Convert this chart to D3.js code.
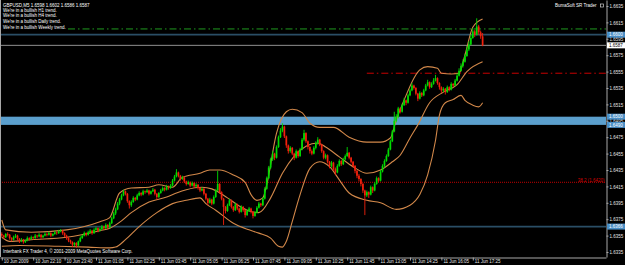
<!DOCTYPE html>
<html><head><meta charset="utf-8">
<script src="https://cdn.jsdelivr.net/npm/d3@7/dist/d3.min.js"></script>
<style>
html,body{margin:0;padding:0;background:#000;overflow:hidden}
svg{display:block}
</style></head><body>
<svg id="c" width="625" height="265"></svg>
<script>
// ---- data (GBPUSD, M5) ----
const open = [
1.6357,1.6355,1.6353,1.6357,1.6356,1.6352,1.6350,1.6353,1.6355,1.6351,
1.6348,1.6350,1.6347,1.6349,1.6352,1.6351,1.6353,1.6352,1.6355,1.6354,
1.6356,1.6353,1.6355,1.6357,1.6356,1.6358,1.6355,1.6357,1.6359,1.6358,
1.6360,1.6361,1.6358,1.6355,1.6352,1.6349,1.6347,1.6344,1.6346,1.6343,
1.6348,1.6352,1.6355,1.6358,1.6356,1.6359,1.6361,1.6358,1.6362,1.6364,
1.6361,1.6363,1.6366,1.6364,1.6368,1.6365,1.6370,1.6376,1.6382,1.6387,
1.6394,1.6399,1.6404,1.6409,1.6406,1.6397,1.6392,1.6396,1.6401,1.6399,
1.6404,1.6407,1.6405,1.6409,1.6408,1.6410,1.6406,1.6409,1.6411,1.6406,
1.6402,1.6407,1.6410,1.6413,1.6411,1.6415,1.6413,1.6416,1.6422,1.6427,
1.6432,1.6428,1.6424,1.6426,1.6421,1.6418,1.6420,1.6416,1.6419,1.6415,
1.6417,1.6413,1.6410,1.6412,1.6406,1.6400,1.6395,1.6399,1.6394,1.6402,
1.6410,1.6418,1.6408,1.6400,1.6390,1.6385,1.6392,1.6398,1.6390,1.6386,
1.6393,1.6388,1.6384,1.6390,1.6386,1.6380,1.6385,1.6388,1.6384,1.6379,
1.6383,1.6389,1.6394,1.6392,1.6400,1.6412,1.6425,1.6438,1.6448,1.6455,
1.6450,1.6463,1.6475,1.6483,1.6488,1.6476,1.6465,1.6458,1.6462,1.6455,
1.6450,1.6458,1.6452,1.6460,1.6472,1.6480,1.6470,1.6463,1.6458,1.6455,
1.6462,1.6468,1.6472,1.6466,1.6458,1.6450,1.6453,1.6445,1.6440,1.6444,
1.6436,1.6432,1.6440,1.6446,1.6442,1.6448,1.6452,1.6456,1.6450,1.6445,
1.6440,1.6434,1.6428,1.6424,1.6418,1.6410,1.6404,1.6408,1.6405,1.6414,
1.6410,1.6418,1.6425,1.6422,1.6433,1.6440,1.6446,1.6452,1.6460,1.6470,
1.6482,1.6495,1.6500,1.6510,1.6506,1.6514,1.6520,1.6517,1.6526,1.6532,
1.6538,1.6535,1.6528,1.6522,1.6529,1.6526,1.6532,1.6538,1.6542,1.6536,
1.6540,1.6544,1.6547,1.6541,1.6536,1.6532,1.6534,1.6530,1.6536,1.6533,
1.6540,1.6538,1.6544,1.6550,1.6556,1.6562,1.6567,1.6574,1.6582,1.6588,
1.6596,1.6604,1.6600,1.6610,1.6603,1.6598];
const high = [
1.6359,1.6356,1.6358,1.6359,1.6357,1.6353,1.6355,1.6357,1.6356,1.6352,
1.6352,1.6351,1.6350,1.6354,1.6353,1.6355,1.6354,1.6357,1.6356,1.6358,
1.6357,1.6356,1.6359,1.6358,1.6360,1.6359,1.6358,1.6361,1.6360,1.6362,
1.6363,1.6362,1.6359,1.6356,1.6353,1.6350,1.6348,1.6347,1.6347,1.6349,
1.6354,1.6356,1.6360,1.6359,1.6361,1.6363,1.6362,1.6364,1.6366,1.6365,
1.6365,1.6368,1.6367,1.6370,1.6369,1.6372,1.6378,1.6384,1.6389,1.6396,
1.6401,1.6406,1.6411,1.6410,1.6407,1.6398,1.6398,1.6403,1.6402,1.6406,
1.6409,1.6408,1.6411,1.6410,1.6412,1.6411,1.6410,1.6413,1.6412,1.6407,
1.6408,1.6412,1.6415,1.6414,1.6417,1.6416,1.6418,1.6424,1.6429,1.6436,
1.6433,1.6429,1.6428,1.6427,1.6422,1.6422,1.6421,1.6421,1.6420,1.6419,
1.6418,1.6414,1.6414,1.6413,1.6407,1.6401,1.6401,1.6400,1.6404,1.6412,
1.6434,1.6419,1.6409,1.6401,1.6391,1.6394,1.6400,1.6399,1.6391,1.6395,
1.6394,1.6389,1.6392,1.6391,1.6387,1.6387,1.6390,1.6389,1.6385,1.6385,
1.6391,1.6396,1.6395,1.6402,1.6414,1.6427,1.6440,1.6450,1.6458,1.6456,
1.6465,1.6477,1.6486,1.6492,1.6489,1.6477,1.6466,1.6464,1.6463,1.6456,
1.6460,1.6459,1.6462,1.6474,1.6484,1.6481,1.6471,1.6464,1.6460,1.6464,
1.6470,1.6475,1.6473,1.6467,1.6459,1.6455,1.6454,1.6446,1.6446,1.6445,
1.6438,1.6442,1.6448,1.6447,1.6450,1.6454,1.6463,1.6457,1.6451,1.6446,
1.6441,1.6435,1.6430,1.6425,1.6419,1.6411,1.6410,1.6409,1.6416,1.6415,
1.6420,1.6427,1.6426,1.6435,1.6442,1.6448,1.6454,1.6462,1.6472,1.6484,
1.6506,1.6503,1.6512,1.6511,1.6516,1.6523,1.6521,1.6528,1.6534,1.6541,
1.6539,1.6536,1.6529,1.6531,1.6530,1.6534,1.6540,1.6545,1.6543,1.6542,
1.6547,1.6551,1.6548,1.6542,1.6537,1.6536,1.6535,1.6538,1.6537,1.6542,
1.6541,1.6546,1.6553,1.6559,1.6565,1.6570,1.6577,1.6586,1.6592,1.6600,
1.6608,1.6606,1.6620,1.6612,1.6605,1.6602];
const low = [
1.6353,1.6351,1.6352,1.6354,1.6350,1.6348,1.6349,1.6352,1.6349,1.6346,
1.6347,1.6345,1.6346,1.6348,1.6349,1.6350,1.6350,1.6351,1.6352,1.6353,
1.6351,1.6352,1.6354,1.6354,1.6355,1.6353,1.6354,1.6356,1.6356,1.6357,
1.6359,1.6356,1.6353,1.6350,1.6347,1.6345,1.6341,1.6342,1.6340,1.6342,
1.6347,1.6351,1.6354,1.6354,1.6355,1.6358,1.6356,1.6357,1.6361,1.6359,
1.6360,1.6362,1.6362,1.6363,1.6363,1.6364,1.6369,1.6375,1.6380,1.6386,
1.6392,1.6398,1.6403,1.6404,1.6395,1.6388,1.6390,1.6395,1.6397,1.6398,
1.6403,1.6403,1.6404,1.6406,1.6407,1.6404,1.6405,1.6408,1.6404,1.6399,
1.6401,1.6406,1.6409,1.6409,1.6410,1.6411,1.6412,1.6415,1.6421,1.6426,
1.6426,1.6422,1.6423,1.6419,1.6416,1.6417,1.6414,1.6415,1.6413,1.6414,
1.6411,1.6408,1.6409,1.6404,1.6398,1.6392,1.6394,1.6392,1.6393,1.6401,
1.6409,1.6406,1.6398,1.6368,1.6382,1.6384,1.6391,1.6388,1.6384,1.6385,
1.6386,1.6382,1.6383,1.6384,1.6377,1.6379,1.6384,1.6382,1.6376,1.6378,
1.6382,1.6388,1.6390,1.6391,1.6399,1.6411,1.6424,1.6436,1.6446,1.6447,
1.6449,1.6462,1.6474,1.6481,1.6474,1.6462,1.6455,1.6456,1.6453,1.6447,
1.6449,1.6450,1.6451,1.6459,1.6470,1.6468,1.6460,1.6455,1.6453,1.6454,
1.6460,1.6466,1.6464,1.6456,1.6448,1.6448,1.6443,1.6437,1.6438,1.6434,
1.6429,1.6431,1.6439,1.6440,1.6441,1.6447,1.6451,1.6448,1.6443,1.6438,
1.6431,1.6425,1.6421,1.6415,1.6407,1.6380,1.6402,1.6401,1.6404,1.6407,
1.6409,1.6417,1.6420,1.6421,1.6432,1.6438,1.6445,1.6451,1.6459,1.6469,
1.6481,1.6493,1.6498,1.6504,1.6505,1.6513,1.6514,1.6516,1.6525,1.6531,
1.6533,1.6526,1.6519,1.6521,1.6524,1.6525,1.6531,1.6537,1.6534,1.6535,
1.6539,1.6543,1.6539,1.6533,1.6529,1.6530,1.6527,1.6529,1.6531,1.6532,
1.6536,1.6537,1.6543,1.6549,1.6555,1.6560,1.6566,1.6573,1.6580,1.6587,
1.6595,1.6597,1.6599,1.6600,1.6595,1.6586];
const close = [
1.6355,1.6353,1.6357,1.6356,1.6352,1.6350,1.6353,1.6355,1.6351,1.6348,
1.6350,1.6347,1.6349,1.6352,1.6351,1.6353,1.6352,1.6355,1.6354,1.6356,
1.6353,1.6355,1.6357,1.6356,1.6358,1.6355,1.6357,1.6359,1.6358,1.6360,
1.6361,1.6358,1.6355,1.6352,1.6349,1.6347,1.6344,1.6346,1.6343,1.6348,
1.6352,1.6355,1.6358,1.6356,1.6359,1.6361,1.6358,1.6362,1.6364,1.6361,
1.6363,1.6366,1.6364,1.6368,1.6365,1.6370,1.6376,1.6382,1.6387,1.6394,
1.6399,1.6404,1.6409,1.6406,1.6397,1.6392,1.6396,1.6401,1.6399,1.6404,
1.6407,1.6405,1.6409,1.6408,1.6410,1.6406,1.6409,1.6411,1.6406,1.6402,
1.6407,1.6410,1.6413,1.6411,1.6415,1.6413,1.6416,1.6422,1.6427,1.6432,
1.6428,1.6424,1.6426,1.6421,1.6418,1.6420,1.6416,1.6419,1.6415,1.6417,
1.6413,1.6410,1.6412,1.6406,1.6400,1.6395,1.6399,1.6394,1.6402,1.6410,
1.6418,1.6408,1.6400,1.6390,1.6385,1.6392,1.6398,1.6390,1.6386,1.6393,
1.6388,1.6384,1.6390,1.6386,1.6380,1.6385,1.6388,1.6384,1.6379,1.6383,
1.6389,1.6394,1.6392,1.6400,1.6412,1.6425,1.6438,1.6448,1.6455,1.6450,
1.6463,1.6475,1.6483,1.6488,1.6476,1.6465,1.6458,1.6462,1.6455,1.6450,
1.6458,1.6452,1.6460,1.6472,1.6480,1.6470,1.6463,1.6458,1.6455,1.6462,
1.6468,1.6472,1.6466,1.6458,1.6450,1.6453,1.6445,1.6440,1.6444,1.6436,
1.6432,1.6440,1.6446,1.6442,1.6448,1.6452,1.6456,1.6450,1.6445,1.6440,
1.6434,1.6428,1.6424,1.6418,1.6410,1.6404,1.6408,1.6405,1.6414,1.6410,
1.6418,1.6425,1.6422,1.6433,1.6440,1.6446,1.6452,1.6460,1.6470,1.6482,
1.6495,1.6500,1.6510,1.6506,1.6514,1.6520,1.6517,1.6526,1.6532,1.6538,
1.6535,1.6528,1.6522,1.6529,1.6526,1.6532,1.6538,1.6542,1.6536,1.6540,
1.6544,1.6547,1.6541,1.6536,1.6532,1.6534,1.6530,1.6536,1.6533,1.6540,
1.6538,1.6544,1.6550,1.6556,1.6562,1.6567,1.6574,1.6582,1.6588,1.6596,
1.6604,1.6600,1.6610,1.6603,1.6598,1.6587];

// Bollinger-style envelopes: [bar index, price]
const upperBand = [[0,1.6374],[2,1.6362],[15,1.6359],[33,1.6362],[50,1.6372],[55,1.6377],[60,1.6407],[66,1.6413],[75,1.6414],[80,1.6417],[87,1.6414],[92,1.6426],[101,1.6431],[106,1.6435],[111,1.6435],[118,1.6429],[124,1.6420],[127,1.6405],[130,1.6398],[133,1.6401],[135,1.6417],[140,1.6480],[145,1.6506],[148,1.6509],[153,1.6505],[157,1.6492],[162,1.6487],[169,1.6487],[177,1.6475],[186,1.6469],[193,1.6469],[198,1.6474],[201,1.6496],[206,1.6526],[210,1.6547],[213,1.6557],[217,1.6561],[222,1.6559],[224,1.6553],[229,1.6552],[233,1.6553],[236,1.6575],[240,1.6609],[245,1.6619]];
const middleBand = [[0,1.6353],[4,1.6348],[15,1.6350],[33,1.6353],[50,1.6361],[55,1.6364],[61,1.6373],[66,1.6383],[75,1.6396],[84,1.6402],[89,1.6407],[94,1.6411],[102,1.6414],[107,1.6412],[115,1.6401],[121,1.6391],[126,1.6385],[131,1.6383],[137,1.6401],[143,1.6431],[149,1.6452],[155,1.6464],[161,1.6468],[165,1.6463],[172,1.6451],[179,1.6439],[186,1.6431],[193,1.6435],[199,1.6445],[203,1.6453],[208,1.6474],[212,1.6490],[218,1.6517],[225,1.6530],[232,1.6539],[237,1.6555],[245,1.6567]];
const lowerBand = [[0,1.6342],[9,1.6343],[29,1.6342],[44,1.6341],[55,1.6340],[58,1.6341],[63,1.6350],[70,1.6366],[79,1.6383],[87,1.6394],[94,1.6398],[101,1.6401],[104,1.6394],[109,1.6386],[118,1.6370],[126,1.6362],[131,1.6358],[137,1.6352],[141,1.6342],[143,1.6341],[145,1.6348],[148,1.6372],[152,1.6405],[157,1.6437],[162,1.6445],[167,1.6439],[172,1.6423],[177,1.6407],[186,1.6398],[193,1.6395],[201,1.6387],[208,1.6392],[213,1.6405],[217,1.6429],[221,1.6471],[223,1.6502],[226,1.6517],[230,1.6521],[234,1.6526],[236,1.6520],[240,1.6514],[243,1.6512],[245,1.6517]];

const timeLabels = ["10 Jun 2009","10 Jun 22:10","10 Jun 23:40","11 Jun 01:05","11 Jun 02:25","11 Jun 03:45","11 Jun 05:05","11 Jun 06:25","11 Jun 07:45","11 Jun 09:05","11 Jun 10:25","11 Jun 11:45","11 Jun 13:05","11 Jun 14:25","11 Jun 16:05","11 Jun 17:25"];
const timeLabelBars = [0,16,32,48,64,80,96,112,128,144,160,176,192,208,224,240];
const priceTicks = [1.6635,1.6615,1.6595,1.6575,1.6555,1.6535,1.6515,1.6495,1.6475,1.6455,1.6435,1.6415,1.6395,1.6375,1.6355,1.6335];
const srZone = [1.6490, 1.6500];
const srLines = [1.6600, 1.6366];
const markedPrices = [1.6600, 1.6500, 1.6490, 1.6366];
const resistanceLevel = 1.6607;
const pivotLevel = 1.6553;
const pivotStartBar = 186;
const fibLevel = 1.6420;
const fibLabel = "38.2 (1.6420)";
const trendMessages = ["We're in a bullish H1 trend.","We're in a bullish H4 trend.","We're in a bullish Daily trend.","We're in a bullish Weekly trend."];

// ---- drawing ----
const plotRight = 606, plotBottom = 257;
const FONT = "'Liberation Sans', Arial, sans-serif";
const FS = 4.5;
const axisColor = "#a8a8a8", textColor = "#e6e6e6";
const bull = "#00dc00", bear = "#f3200c", bandColor = "#d2884a";

const svg = d3.select('#c');
svg.append('rect').attr('width', 625).attr('height', 265).attr('fill', '#000');

const n = close.length;
const x = d3.scaleLinear().domain([0, n - 1]).range([1.8, 482.6]);
const y = d3.scaleLinear().domain([1.63289, 1.66423]).range([plotBottom, 0]);

const plot = svg.append('g');

// S/R zone
plot.append('rect')
  .attr('x', 0).attr('width', plotRight)
  .attr('y', y(srZone[1])).attr('height', y(srZone[0]) - y(srZone[1]))
  .attr('fill', '#5b9fcd');

// S/R lines
plot.selectAll('line.sr').data(srLines).join('line')
  .attr('x1', 0).attr('x2', plotRight)
  .attr('y1', d => y(d)).attr('y2', d => y(d))
  .attr('stroke', '#2a4e66').attr('stroke-width', 1.8);

// bid line
plot.append('line').attr('x1', 0).attr('x2', plotRight)
  .attr('y1', y(close[n-1])).attr('y2', y(close[n-1]))
  .attr('stroke', '#8f8f8f').attr('stroke-width', 1);

// green dash-dot resistance
plot.append('line').attr('x1', 68).attr('x2', plotRight)
  .attr('y1', y(resistanceLevel)).attr('y2', y(resistanceLevel))
  .attr('stroke', '#1f9a1f').attr('stroke-width', 1)
  .attr('stroke-dasharray', '7,3,1.5,3');

// red dash-dot pivot
plot.append('line').attr('x1', x(pivotStartBar)).attr('x2', plotRight)
  .attr('y1', y(pivotLevel)).attr('y2', y(pivotLevel))
  .attr('stroke', '#c80000').attr('stroke-width', 1)
  .attr('stroke-dasharray', '7,3,1.5,3');

// fib dotted line
plot.append('line').attr('x1', 0).attr('x2', plotRight)
  .attr('y1', y(fibLevel)).attr('y2', y(fibLevel))
  .attr('stroke', '#c00000').attr('stroke-width', 1)
  .attr('stroke-dasharray', '1,1');
plot.append('text').attr('x', plotRight - 1.5).attr('y', y(fibLevel) - 0.3)
  .attr('text-anchor', 'end').attr('fill', '#d80000')
  .attr('font-family', FONT).attr('font-size', FS).text(fibLabel);

// envelopes
const line = d3.line().x(d => x(d[0])).y(d => y(d[1])).curve(d3.curveMonotoneX);
plot.selectAll('path.band').data([upperBand, middleBand, lowerBand]).join('path')
  .attr('d', line).attr('fill', 'none')
  .attr('stroke', bandColor).attr('stroke-width', 1.1);

// candles
const bars = d3.range(n).map(i => ({i, o: open[i], h: high[i], l: low[i], c: close[i]}));
const col = d => d.c >= d.o ? bull : bear;
plot.selectAll('line.wick').data(bars).join('line')
  .attr('x1', d => x(d.i)).attr('x2', d => x(d.i))
  .attr('y1', d => y(d.h)).attr('y2', d => y(d.l))
  .attr('stroke', col).attr('stroke-width', 0.9);
plot.selectAll('rect.body').data(bars).join('rect')
  .attr('x', d => x(d.i) - 0.85).attr('width', 1.7)
  .attr('y', d => y(Math.max(d.o, d.c)))
  .attr('height', d => Math.max(0.8, Math.abs(y(d.o) - y(d.c))))
  .attr('fill', col);

// frame
svg.append('line').attr('x1', 0.5).attr('x2', 0.5).attr('y1', 0).attr('y2', plotBottom)
  .attr('stroke', axisColor).attr('stroke-width', 1);

// right price axis
const yAxis = d3.axisRight(y).tickValues(priceTicks).tickFormat(d3.format('.4f'))
  .tickSize(2).tickSizeOuter(0).tickPadding(1);
const gy = svg.append('g').attr('transform', `translate(${plotRight + 0.5},0)`).call(yAxis);
gy.attr('font-size', FS).attr('font-family', FONT);
gy.select('.domain').attr('stroke', axisColor);
gy.selectAll('.tick line').attr('stroke', axisColor);
gy.selectAll('.tick text').attr('fill', textColor).attr('dy', '0.36em');

// bottom time axis
const xAxisScale = d3.scaleLinear().domain([x.invert(0), x.invert(plotRight)]).range([0, plotRight]);
const xAxis = d3.axisBottom(xAxisScale).tickValues(timeLabelBars)
  .tickFormat((d, k) => timeLabels[k]).tickSize(3).tickSizeOuter(0);
const gx = svg.append('g').attr('transform', `translate(0,${plotBottom + 0.5})`).call(xAxis);
gx.attr('font-size', FS).attr('font-family', FONT);
gx.select('.domain').attr('stroke', axisColor);
gx.selectAll('.tick line').attr('stroke', axisColor);
gx.selectAll('.tick text').attr('fill', textColor).attr('text-anchor', 'start')
  .attr('x', 1.5).attr('y', 2).attr('dy', '0.71em');

// price markers on axis
const mk = svg.append('g');
mk.selectAll('rect').data(markedPrices).join('rect')
  .attr('x', plotRight + 1).attr('width', 18).attr('y', d => y(d) - 3).attr('height', 6)
  .attr('fill', '#4a8fc6');
mk.selectAll('text').data(markedPrices).join('text')
  .attr('x', plotRight + 3).attr('y', d => y(d)).attr('dy', '0.36em')
  .attr('fill', '#ffffff').attr('font-family', FONT).attr('font-size', FS)
  .text(d => d3.format('.4f')(d));
mk.append('rect').attr('x', plotRight + 1).attr('width', 18)
  .attr('y', y(close[n-1]) - 3).attr('height', 6).attr('fill', '#ffffff');
mk.append('text').attr('x', plotRight + 3).attr('y', y(close[n-1])).attr('dy', '0.36em')
  .attr('fill', '#000').attr('font-family', FONT).attr('font-size', FS)
  .text(d3.format('.4f')(close[n-1]));

// texts
const f4 = d3.format('.4f');
const header = `GBPUSD,M5  ${f4(open[n-1])} ${f4(high[n-1])} ${f4(low[n-1])} ${f4(close[n-1])}`;
const tl = svg.append('g').attr('font-family', FONT).attr('font-size', FS).attr('fill', '#ffffff');
tl.append('text').attr('x', 3).attr('y', 6.8).text(header);
const baselines = [12.2, 17.3, 23.2, 29.2];
tl.selectAll('text.msg').data(trendMessages).join('text')
  .attr('x', 3).attr('y', (d, k) => baselines[k]).text(d => d);
tl.append('text').attr('x', 555).attr('y', 7.4).text('BumaSoft SR Trader');
svg.append('rect').attr('x', 600.5).attr('y', 4).attr('width', 3).attr('height', 3)
  .attr('fill', 'none').attr('stroke', '#cfcfcf').attr('stroke-width', 0.7);
tl.append('text').attr('x', 3).attr('y', 253.4)
  .text('Interbank FX Trader 4, \u00a9 2001-2009 MetaQuotes Software Corp.');
</script>
</body></html>
